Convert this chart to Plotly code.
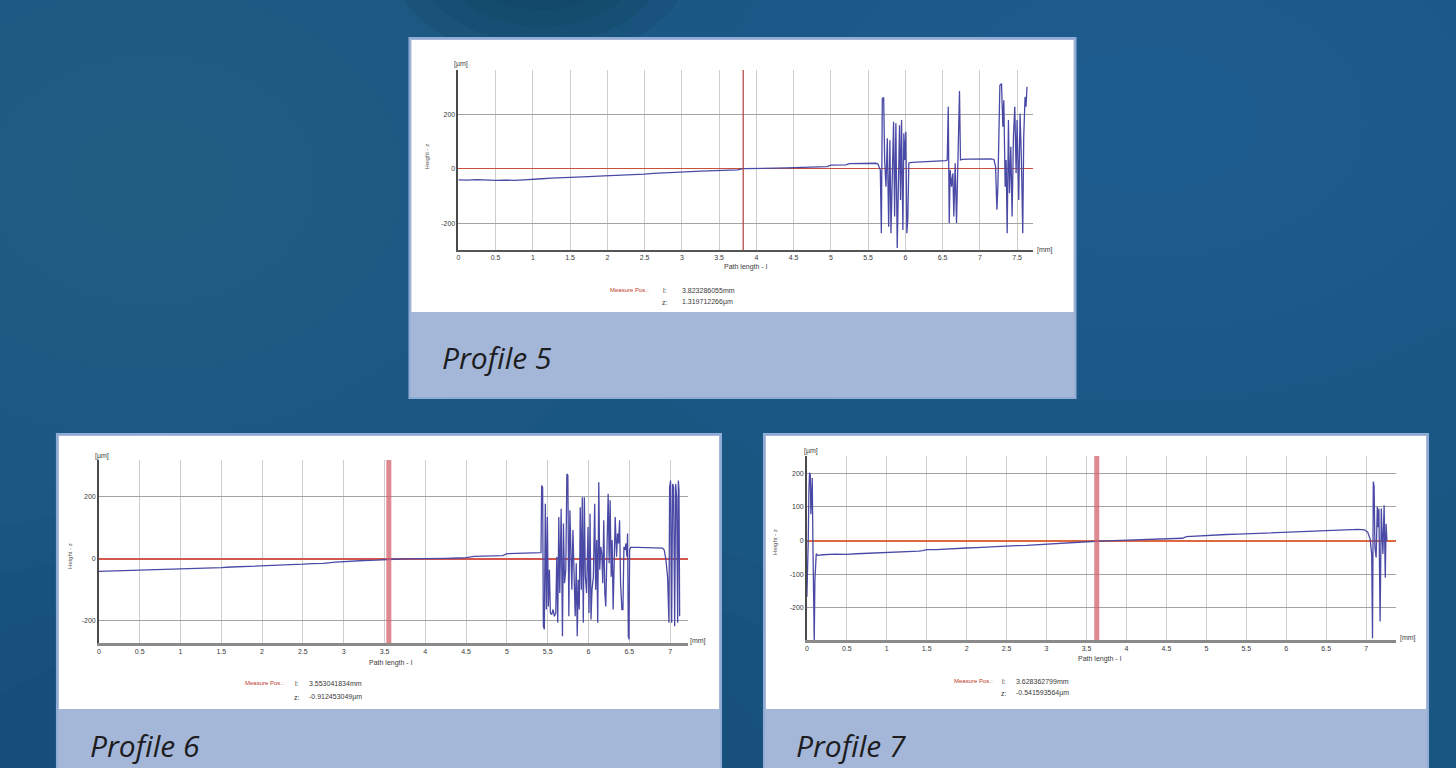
import plotly.graph_objects as go

# ---------------- data ----------------
# Profile 5
p5_x = [0.0, 0.12, 0.25, 0.38, 0.5, 0.62, 0.75, 0.88, 1.0, 1.12, 1.25, 1.4, 1.5, 1.62, 1.75, 1.88,
        2.0, 2.12, 2.25, 2.4, 2.5, 2.62, 2.75, 2.88, 3.0, 3.12, 3.25, 3.4, 3.5, 3.62, 3.75, 3.82,
        4.0, 4.12, 4.25, 4.4, 4.5, 4.62, 4.75, 4.85, 4.95, 5.0, 5.1, 5.2, 5.25, 5.4, 5.5, 5.6,
        5.633, 5.664, 5.678, 5.691, 5.709, 5.722, 5.740, 5.758, 5.776, 5.793, 5.807, 5.824, 5.842,
        5.856, 5.873, 5.891, 5.904, 5.922, 5.936, 5.949, 5.967, 5.980, 5.993, 6.007, 6.020, 6.033,
        6.047, 6.060, 6.15, 6.25, 6.35, 6.45, 6.544,
        6.562, 6.576, 6.589, 6.602, 6.620, 6.638, 6.651, 6.669, 6.687, 6.700, 6.713, 6.727, 6.740,
        6.767, 6.85, 6.95, 7.05, 7.15, 7.189,
        7.211, 7.229, 7.242, 7.269, 7.291, 7.309, 7.322, 7.340, 7.353, 7.367, 7.384, 7.398, 7.416,
        7.433, 7.451, 7.469, 7.487, 7.500, 7.522, 7.540, 7.558, 7.576, 7.589, 7.607, 7.620, 7.633]
p5_y = [-40, -41, -39, -41, -42, -41, -42, -40, -37, -36, -34, -33, -30, -29, -28, -26,
        -25, -24, -21, -20, -19, -16, -15, -13, -11, -10, -8, -7, -6, -4, -3, 1.3,
        1, 2, 3, 4, 5, 6, 7, 8, 9, 14, 14, 15, 20, 21, 21, 21,
        18, -4, -236, 259, 263, 33, -65, 113, -212, 106, -236, -77, 174,
        -175, 168, -291, -65, 161, -114, 180, -224, 131, 33, 137, -236, -187,
        21, 23, 25, 26, 27, 28, 31,
        33, 229, -199, -4, -65, -16, -175, 21, -199, -28, 21, 287, 33,
        35, 36, 37, 38, 37, 35,
        9, -150, -65, 308, 314, 155, 253, -65, 33, -236, 180, -89, 82,
        -175, 119, 229, -16, 180, -114, 204, 33, -236, 119, 265, 229, 302]
p5_measure_l = 3.823286055
p5_text = ["3.823286055mm", "1.319712266µm"]

# Profile 6
p6_x = [0.0, 0.12, 0.25, 0.38, 0.5, 0.62, 0.75, 0.88, 1.0, 1.12, 1.25, 1.4, 1.5, 1.62, 1.75, 1.88,
        2.0, 2.12, 2.25, 2.4, 2.5, 2.62, 2.75, 2.9, 3.0, 3.12, 3.25, 3.4, 3.5, 3.62, 3.75, 3.88,
        4.0, 4.12, 4.25, 4.4, 4.5, 4.6, 4.75, 4.85, 4.95, 5.0, 5.1, 5.2, 5.3, 5.418,
        5.426, 5.438, 5.447, 5.459, 5.471, 5.484, 5.496, 5.508, 5.521, 5.533, 5.549, 5.566, 5.582,
        5.599, 5.611, 5.623, 5.636, 5.648, 5.665, 5.681, 5.693, 5.706, 5.722, 5.735, 5.747, 5.759,
        5.772, 5.784, 5.796, 5.809, 5.825, 5.837, 5.850, 5.862, 5.874, 5.887, 5.899, 5.912, 5.924,
        5.936, 5.949, 5.961, 5.977, 5.994, 6.006, 6.019, 6.031, 6.043, 6.060, 6.076, 6.088, 6.101,
        6.113, 6.126, 6.138, 6.150, 6.163, 6.175, 6.187, 6.200, 6.212, 6.228, 6.241, 6.253, 6.265,
        6.278, 6.290, 6.302, 6.315, 6.327, 6.344, 6.356, 6.368, 6.381, 6.393, 6.409, 6.422, 6.434,
        6.447, 6.459, 6.471, 6.479, 6.488, 6.496, 6.504, 6.516, 6.6, 6.7, 6.8, 6.907,
        6.928, 6.949, 6.969, 6.977, 6.986, 6.994, 7.006, 7.019, 7.031, 7.043, 7.056, 7.068, 7.080,
        7.093, 7.101, 7.109, 7.117]
p6_y = [-40, -39, -40, -38, -37, -37, -35, -34, -33, -31, -31, -29, -28, -26, -25, -23,
        -22, -21, -20, -18, -17, -15, -14, -10, -8, -7, -5, -4, -2, -1, 0, 0,
        1, 1, 2, 3, 4, 8, 9, 10, 11, 17, 18, 19, 20, 20,
        237, 231, -217, -227, 178, -163, 135, -153, -35, -174, -179, -163, -185,
        -174, 7, -206, 135, -110, 162, -249, 114, -78, -35, 274, 269, -185,
        157, -25, -99, 93, -67, -185, -14, -249, -67, -163, 167, -99, 199,
        -206, 199, -57, -110, 103, -174, 146, -195, -99, -57, 178, -99, 61,
        -206, 247, -35, 39, 18, -78, 125, -110, -153, 125, 210, -14, 189,
        -57, 61, -163, 18, 135, 7, 82, 50, 125, -78, -163, -163, 39,
        29, 50, 7, 82, -249, -259, 29, 37, 37, 36, 36, 35,
        29, -3, -57, -121, -206, 231, 253, -206, 242, 231, -217, 242, 199,
        -206, 253, 221, -185]
p6_measure_l = 3.553041834
p6_text = ["3.553041834mm", "-0.912453049µm"]

# Profile 7
p7_x = [0.0, 0.008, 0.017, 0.025, 0.033, 0.042, 0.050, 0.058, 0.067, 0.075, 0.083, 0.092, 0.100,
        0.108, 0.117, 0.133, 0.2, 0.35, 0.5, 0.62, 0.75, 0.88, 1.0, 1.12, 1.25, 1.4, 1.45, 1.5,
        1.62, 1.75, 1.88, 2.0, 2.12, 2.25, 2.4, 2.5, 2.62, 2.75, 2.88, 3.0, 3.12, 3.25, 3.4, 3.5,
        3.62, 3.75, 3.88, 4.0, 4.12, 4.25, 4.4, 4.5, 4.6, 4.7, 4.75, 4.88, 5.0, 5.12, 5.25, 5.4,
        5.5, 5.62, 5.75, 5.88, 6.0, 6.12, 6.25, 6.4, 6.5, 6.62, 6.75, 6.9, 6.98, 7.02, 7.05,
        7.07, 7.08, 7.09, 7.1, 7.11, 7.125, 7.14, 7.15, 7.16, 7.175, 7.19, 7.2, 7.21, 7.225,
        7.24, 7.25, 7.26]
p7_y = [-167, -98, 0, 147, 201, 196, 78, 123, 186, 0, -167, -302, -118,
        -49, -39, -44, -42, -40, -41, -39, -38, -37, -35, -33, -32, -31, -30, -27,
        -27, -26, -24, -22, -21, -20, -18, -17, -15, -14, -12, -10, -8, -6, -4, -3,
        -2, -1, 0, 1, 2, 3, 4, 5, 6, 7, 12, 14, 15, 16, 18, 19,
        20, 21, 22, 23, 24, 26, 27, 28, 29, 30, 31, 33, 32, 25, 5,
        -40, -290, 175, 160, -20, -50, 100, 40, 95, -240, 95, 20, -40, 105,
        -110, 50, 0]
p7_measure_l = 3.628362799
p7_text = ["3.628362799mm", "-0.541593564µm"]

x_ticks_5 = [0, 0.5, 1, 1.5, 2, 2.5, 3, 3.5, 4, 4.5, 5, 5.5, 6, 6.5, 7, 7.5]
x_ticks_67 = [0, 0.5, 1, 1.5, 2, 2.5, 3, 3.5, 4, 4.5, 5, 5.5, 6, 6.5, 7]
y_ticks_56 = [-200, 0, 200]
y_ticks_7 = [-200, -100, 0, 100, 200]
captions = ["Profile 5", "Profile 6", "Profile 7"]

# ---------------- layout helpers ----------------
W, H = 1456, 768


def fx(px):
    return px / W


def fy(py):
    return 1 - py / H


fig = go.Figure()

LINE_BLUE = "#4a4aa6"
SMALL = dict(family="Liberation Sans, Arial, sans-serif", size=7, color="#3a3a3a")

charts = [
    dict(x=p5_x, y=p5_y, ml=p5_measure_l, txt=p5_text, xt=x_ticks_5, yt=y_ticks_56,
         px=(457, 1032), py=(250, 70), xr=(0, 7.708), yr=(-298, 364),
         zc="#c9503a", zw=1, mc="#b23a3a", mw=1.2, xlc="#555555", xlw=1.5,
         um=(460, 64), mm=(1034, 250), pl=(745, 267), hz=(426, 156),
         meas=(650, 290, 302, 664, 679)),
    dict(x=p6_x, y=p6_y, ml=p6_measure_l, txt=p6_text, xt=x_ticks_67, yt=y_ticks_56,
         px=(97, 687), py=(643, 460), xr=(0, 7.22), yr=(-271, 319),
         zc="#d4574f", zw=2, mc="rgba(214,96,110,0.75)", mw=5, xlc="#8a8a8a", xlw=2.5,
         um=(100, 456), mm=(687, 641), pl=(390, 663), hz=(68, 556),
         meas=(284, 683, 697, 295, 305)),
    dict(x=p7_x, y=p7_y, ml=p7_measure_l, txt=p7_text, xt=x_ticks_67, yt=y_ticks_7,
         px=(806, 1396), py=(640, 456), xr=(0, 7.375), yr=(-295, 251),
         zc="#e0683e", zw=2, mc="rgba(214,96,110,0.75)", mw=5, xlc="#8a8a8a", xlw=2.5,
         um=(810, 451), mm=(1398, 638), pl=(1100, 659), hz=(774, 542),
         meas=(994, 681, 693, 1003, 1013)),
]

shapes = []
annotations = []


def soft_blob(cx, cy, rx, ry, rgb, alpha, steps=6):
    # concentric ellipses give a soft radial fade
    out = []
    for k in range(steps):
        f = 1 - k / steps
        out.append(dict(type="circle", xref="paper", yref="paper",
                        x0=fx(cx - rx * f), x1=fx(cx + rx * f),
                        y0=fy(cy + ry * f), y1=fy(cy - ry * f),
                        fillcolor="rgba(%d,%d,%d,%.3f)" % (rgb + (alpha,)),
                        line=dict(width=0), layer="below"))
    return out


# background gradient
shapes += soft_blob(1150, 120, 650, 420, (70, 135, 185), 0.035)
shapes += soft_blob(150, 180, 500, 380, (60, 125, 175), 0.03)
shapes += soft_blob(540, -40, 150, 100, (10, 60, 80), 0.16)
shapes += soft_blob(300, 760, 700, 260, (10, 40, 75), 0.04)

# panels (outer light-blue card with caption band, white chart area)
panels = [((408, 38, 1075, 398), (410, 40, 1073, 312), (440, 357)),
          ((55, 434, 720, 772), (57, 436, 718, 709), (87, 745)),
          ((763, 434, 1428, 772), (765, 436, 1426, 709), (794, 745))]
for (o, wbox, cap), name in zip(panels, captions):
    shapes.append(dict(type="rect", xref="paper", yref="paper",
                       x0=fx(o[0]), x1=fx(o[2]), y0=fy(o[3]), y1=fy(o[1]),
                       fillcolor="#a5b7d9", line=dict(color="#8fabd6", width=2), layer="below"))
    shapes.append(dict(type="rect", xref="paper", yref="paper",
                       x0=fx(wbox[0]), x1=fx(wbox[2]), y0=fy(wbox[3]), y1=fy(wbox[1]),
                       fillcolor="#ffffff", line=dict(width=0), layer="below"))
    annotations.append(dict(xref="paper", yref="paper", x=fx(cap[0]), y=fy(cap[1]),
                            xanchor="left", yanchor="middle", showarrow=False, borderpad=0,
                            text="<i>" + name + "</i>",
                            font=dict(family="Open Sans, Lato, sans-serif", size=30, color="#1d1d1f")))

for i, c in enumerate(charts, start=1):
    sx = "" if i == 1 else str(i)
    xa, ya = "x" + sx, "y" + sx
    fig.add_trace(go.Scatter(x=c["x"], y=c["y"], mode="lines", xaxis=xa, yaxis=ya,
                             line=dict(color=LINE_BLUE, width=1.3), hoverinfo="skip",
                             showlegend=False))
    fig.update_layout(**{
        "xaxis" + sx: dict(domain=[fx(c["px"][0]), fx(c["px"][1])], range=list(c["xr"]),
                           anchor=ya, tickmode="array", tickvals=c["xt"],
                           ticktext=[("%g" % v) for v in c["xt"]],
                           showgrid=True, gridcolor="#cdcdcd", gridwidth=1,
                           zeroline=False, showline=True, linecolor=c["xlc"], linewidth=c["xlw"],
                           ticks="", tickfont=SMALL, fixedrange=True),
        "yaxis" + sx: dict(domain=[fy(c["py"][0]), fy(c["py"][1])], range=list(c["yr"]),
                           anchor=xa, tickmode="array", tickvals=c["yt"],
                           ticktext=[str(v) for v in c["yt"]],
                           showgrid=True, gridcolor="#a3a3a3", gridwidth=1,
                           zeroline=True, zerolinecolor=c["zc"], zerolinewidth=c["zw"],
                           showline=True, linecolor="#4a4a4a", linewidth=1.5,
                           ticks="", tickfont=SMALL, fixedrange=True),
    })
    # measuring position marker
    shapes.append(dict(type="line", xref=xa, yref=ya + " domain", x0=c["ml"], x1=c["ml"], y0=0, y1=1,
                       line=dict(color=c["mc"], width=c["mw"])))
    # small labels
    annotations += [
        dict(xref="paper", yref="paper", x=fx(c["um"][0]), y=fy(c["um"][1]), text="[µm]",
             showarrow=False, xanchor="center", yanchor="middle", font=SMALL),
        dict(xref="paper", yref="paper", x=fx(c["mm"][0]), y=fy(c["mm"][1]), text="[mm]",
             showarrow=False, xanchor="left", yanchor="middle", font=SMALL),
        dict(xref="paper", yref="paper", x=fx(c["pl"][0]), y=fy(c["pl"][1]), text="Path length - l",
             showarrow=False, xanchor="center", yanchor="middle", font=SMALL),
        dict(xref="paper", yref="paper", x=fx(c["hz"][0]), y=fy(c["hz"][1]), text="Height - z",
             showarrow=False, xanchor="center", yanchor="middle", textangle=-90,
             font=dict(family=SMALL["family"], size=6, color="#555555")),
    ]
    mx, y1, y2, lx, vx = c["meas"]
    annotations += [
        dict(xref="paper", yref="paper", x=fx(mx), y=fy(y1), text="Measure Pos.:",
             showarrow=False, xanchor="right", yanchor="middle",
             font=dict(family=SMALL["family"], size=6, color="#c0392b")),
        dict(xref="paper", yref="paper", x=fx(lx), y=fy(y1), text="l:",
             showarrow=False, xanchor="center", yanchor="middle", font=SMALL),
        dict(xref="paper", yref="paper", x=fx(vx), y=fy(y1), text=c["txt"][0],
             showarrow=False, xanchor="left", yanchor="middle", font=SMALL),
        dict(xref="paper", yref="paper", x=fx(lx), y=fy(y2), text="z:",
             showarrow=False, xanchor="center", yanchor="middle", font=SMALL),
        dict(xref="paper", yref="paper", x=fx(vx), y=fy(y2), text=c["txt"][1],
             showarrow=False, xanchor="left", yanchor="middle", font=SMALL),
    ]

fig.update_layout(width=W, height=H, margin=dict(l=0, r=0, t=0, b=0),
                  paper_bgcolor="#1a5682", plot_bgcolor="rgba(0,0,0,0)",
                  showlegend=False, hovermode=False,
                  shapes=shapes, annotations=annotations)

fig.write_html("out.html")
